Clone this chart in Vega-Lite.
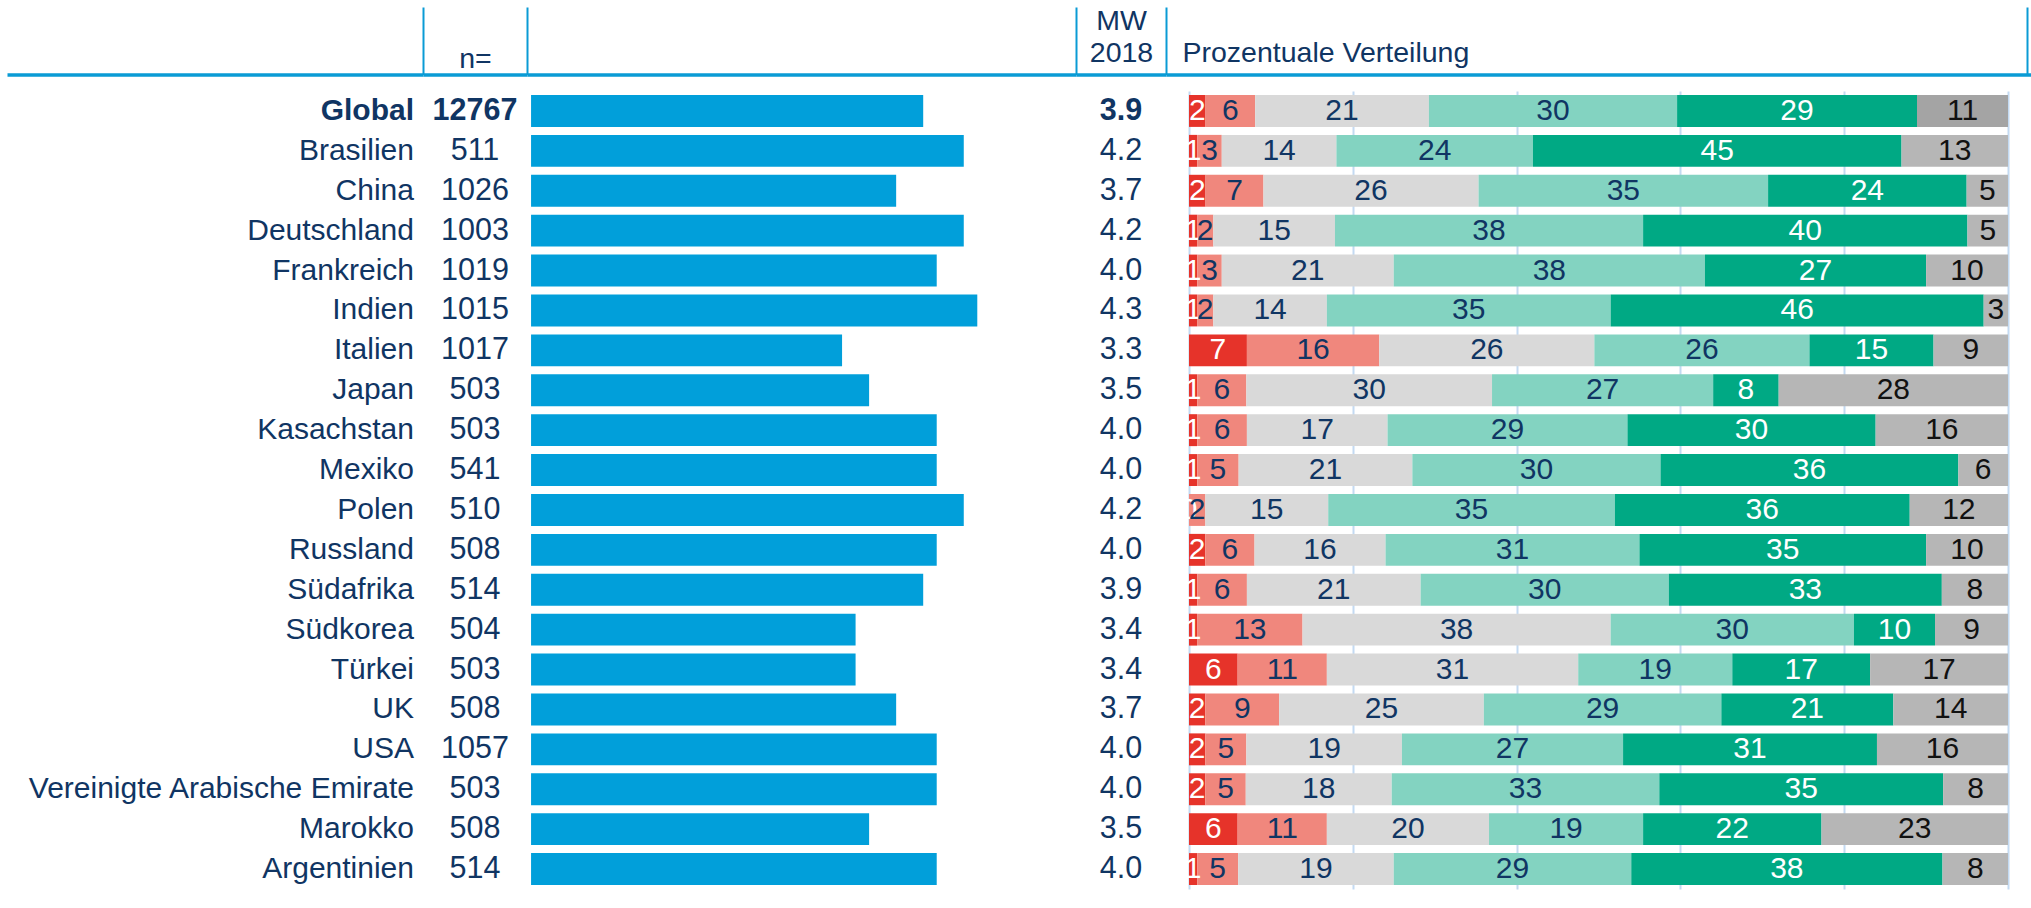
{
  "$schema": "https://vega.github.io/schema/vega-lite/v6.json",
  "padding": {"left": 7, "top": 6, "right": 0, "bottom": 5},
  "autosize": {"type": "pad"},
  "background": "white",
  "bounds": "flush",
  "spacing": 0,
  "resolve": {"scale": {"x": "independent", "y": "independent"}},
  "config": {
    "view": {"stroke": null},
    "font": "Liberation Sans",
    "text": {"font": "Liberation Sans", "fontSize": 30, "color": "#103563"},
    "axis": {
      "labels": false, "ticks": false, "domain": true, "grid": false,
      "domainColor": "#0a9bd5", "domainWidth": 3.5,
      "tickColor": "#0a9bd5", "tickWidth": 2, "tickSize": 67.5,
      "titleFont": "Liberation Sans", "titleFontSize": 28.5, "titleFontWeight": "normal",
      "titleColor": "#103563", "titleAngle": 0, "titleBaseline": "alphabetic", "titleAlign": "center"
    }
  },
  "datasets": {
    "main": [
      {"country": "Global", "n": 12767, "mw": 3.9},
      {"country": "Brasilien", "n": 511, "mw": 4.2},
      {"country": "China", "n": 1026, "mw": 3.7},
      {"country": "Deutschland", "n": 1003, "mw": 4.2},
      {"country": "Frankreich", "n": 1019, "mw": 4.0},
      {"country": "Indien", "n": 1015, "mw": 4.3},
      {"country": "Italien", "n": 1017, "mw": 3.3},
      {"country": "Japan", "n": 503, "mw": 3.5},
      {"country": "Kasachstan", "n": 503, "mw": 4.0},
      {"country": "Mexiko", "n": 541, "mw": 4.0},
      {"country": "Polen", "n": 510, "mw": 4.2},
      {"country": "Russland", "n": 508, "mw": 4.0},
      {"country": "Südafrika", "n": 514, "mw": 3.9},
      {"country": "Südkorea", "n": 504, "mw": 3.4},
      {"country": "Türkei", "n": 503, "mw": 3.4},
      {"country": "UK", "n": 508, "mw": 3.7},
      {"country": "USA", "n": 1057, "mw": 4.0},
      {"country": "Vereinigte Arabische Emirate", "n": 503, "mw": 4.0},
      {"country": "Marokko", "n": 508, "mw": 3.5},
      {"country": "Argentinien", "n": 514, "mw": 4.0}
    ],
    "dist": [
      {"country": "Global", "cat": 1, "pct": 2}, {"country": "Global", "cat": 2, "pct": 6}, {"country": "Global", "cat": 3, "pct": 21}, {"country": "Global", "cat": 4, "pct": 30}, {"country": "Global", "cat": 5, "pct": 29}, {"country": "Global", "cat": 6, "pct": 11},
      {"country": "Brasilien", "cat": 1, "pct": 1}, {"country": "Brasilien", "cat": 2, "pct": 3}, {"country": "Brasilien", "cat": 3, "pct": 14}, {"country": "Brasilien", "cat": 4, "pct": 24}, {"country": "Brasilien", "cat": 5, "pct": 45}, {"country": "Brasilien", "cat": 6, "pct": 13},
      {"country": "China", "cat": 1, "pct": 2}, {"country": "China", "cat": 2, "pct": 7}, {"country": "China", "cat": 3, "pct": 26}, {"country": "China", "cat": 4, "pct": 35}, {"country": "China", "cat": 5, "pct": 24}, {"country": "China", "cat": 6, "pct": 5},
      {"country": "Deutschland", "cat": 1, "pct": 1}, {"country": "Deutschland", "cat": 2, "pct": 2}, {"country": "Deutschland", "cat": 3, "pct": 15}, {"country": "Deutschland", "cat": 4, "pct": 38}, {"country": "Deutschland", "cat": 5, "pct": 40}, {"country": "Deutschland", "cat": 6, "pct": 5},
      {"country": "Frankreich", "cat": 1, "pct": 1}, {"country": "Frankreich", "cat": 2, "pct": 3}, {"country": "Frankreich", "cat": 3, "pct": 21}, {"country": "Frankreich", "cat": 4, "pct": 38}, {"country": "Frankreich", "cat": 5, "pct": 27}, {"country": "Frankreich", "cat": 6, "pct": 10},
      {"country": "Indien", "cat": 1, "pct": 1}, {"country": "Indien", "cat": 2, "pct": 2}, {"country": "Indien", "cat": 3, "pct": 14}, {"country": "Indien", "cat": 4, "pct": 35}, {"country": "Indien", "cat": 5, "pct": 46}, {"country": "Indien", "cat": 6, "pct": 3},
      {"country": "Italien", "cat": 1, "pct": 7}, {"country": "Italien", "cat": 2, "pct": 16}, {"country": "Italien", "cat": 3, "pct": 26}, {"country": "Italien", "cat": 4, "pct": 26}, {"country": "Italien", "cat": 5, "pct": 15}, {"country": "Italien", "cat": 6, "pct": 9},
      {"country": "Japan", "cat": 1, "pct": 1}, {"country": "Japan", "cat": 2, "pct": 6}, {"country": "Japan", "cat": 3, "pct": 30}, {"country": "Japan", "cat": 4, "pct": 27}, {"country": "Japan", "cat": 5, "pct": 8}, {"country": "Japan", "cat": 6, "pct": 28},
      {"country": "Kasachstan", "cat": 1, "pct": 1}, {"country": "Kasachstan", "cat": 2, "pct": 6}, {"country": "Kasachstan", "cat": 3, "pct": 17}, {"country": "Kasachstan", "cat": 4, "pct": 29}, {"country": "Kasachstan", "cat": 5, "pct": 30}, {"country": "Kasachstan", "cat": 6, "pct": 16},
      {"country": "Mexiko", "cat": 1, "pct": 1}, {"country": "Mexiko", "cat": 2, "pct": 5}, {"country": "Mexiko", "cat": 3, "pct": 21}, {"country": "Mexiko", "cat": 4, "pct": 30}, {"country": "Mexiko", "cat": 5, "pct": 36}, {"country": "Mexiko", "cat": 6, "pct": 6},
      {"country": "Polen", "cat": 1, "pct": 0}, {"country": "Polen", "cat": 2, "pct": 2}, {"country": "Polen", "cat": 3, "pct": 15}, {"country": "Polen", "cat": 4, "pct": 35}, {"country": "Polen", "cat": 5, "pct": 36}, {"country": "Polen", "cat": 6, "pct": 12},
      {"country": "Russland", "cat": 1, "pct": 2}, {"country": "Russland", "cat": 2, "pct": 6}, {"country": "Russland", "cat": 3, "pct": 16}, {"country": "Russland", "cat": 4, "pct": 31}, {"country": "Russland", "cat": 5, "pct": 35}, {"country": "Russland", "cat": 6, "pct": 10},
      {"country": "Südafrika", "cat": 1, "pct": 1}, {"country": "Südafrika", "cat": 2, "pct": 6}, {"country": "Südafrika", "cat": 3, "pct": 21}, {"country": "Südafrika", "cat": 4, "pct": 30}, {"country": "Südafrika", "cat": 5, "pct": 33}, {"country": "Südafrika", "cat": 6, "pct": 8},
      {"country": "Südkorea", "cat": 1, "pct": 1}, {"country": "Südkorea", "cat": 2, "pct": 13}, {"country": "Südkorea", "cat": 3, "pct": 38}, {"country": "Südkorea", "cat": 4, "pct": 30}, {"country": "Südkorea", "cat": 5, "pct": 10}, {"country": "Südkorea", "cat": 6, "pct": 9},
      {"country": "Türkei", "cat": 1, "pct": 6}, {"country": "Türkei", "cat": 2, "pct": 11}, {"country": "Türkei", "cat": 3, "pct": 31}, {"country": "Türkei", "cat": 4, "pct": 19}, {"country": "Türkei", "cat": 5, "pct": 17}, {"country": "Türkei", "cat": 6, "pct": 17},
      {"country": "UK", "cat": 1, "pct": 2}, {"country": "UK", "cat": 2, "pct": 9}, {"country": "UK", "cat": 3, "pct": 25}, {"country": "UK", "cat": 4, "pct": 29}, {"country": "UK", "cat": 5, "pct": 21}, {"country": "UK", "cat": 6, "pct": 14},
      {"country": "USA", "cat": 1, "pct": 2}, {"country": "USA", "cat": 2, "pct": 5}, {"country": "USA", "cat": 3, "pct": 19}, {"country": "USA", "cat": 4, "pct": 27}, {"country": "USA", "cat": 5, "pct": 31}, {"country": "USA", "cat": 6, "pct": 16},
      {"country": "Vereinigte Arabische Emirate", "cat": 1, "pct": 2}, {"country": "Vereinigte Arabische Emirate", "cat": 2, "pct": 5}, {"country": "Vereinigte Arabische Emirate", "cat": 3, "pct": 18}, {"country": "Vereinigte Arabische Emirate", "cat": 4, "pct": 33}, {"country": "Vereinigte Arabische Emirate", "cat": 5, "pct": 35}, {"country": "Vereinigte Arabische Emirate", "cat": 6, "pct": 8},
      {"country": "Marokko", "cat": 1, "pct": 6}, {"country": "Marokko", "cat": 2, "pct": 11}, {"country": "Marokko", "cat": 3, "pct": 20}, {"country": "Marokko", "cat": 4, "pct": 19}, {"country": "Marokko", "cat": 5, "pct": 22}, {"country": "Marokko", "cat": 6, "pct": 23},
      {"country": "Argentinien", "cat": 1, "pct": 1}, {"country": "Argentinien", "cat": 2, "pct": 5}, {"country": "Argentinien", "cat": 3, "pct": 19}, {"country": "Argentinien", "cat": 4, "pct": 29}, {"country": "Argentinien", "cat": 5, "pct": 38}, {"country": "Argentinien", "cat": 6, "pct": 8}
    ]
  },
  "hconcat": [
    {
      "width": 416, "height": 798,
      "data": {"name": "main"},
      "mark": {"type": "text", "align": "right", "baseline": "middle", "dx": -9, "fontSize": 30,
               "fontWeight": {"expr": "datum.country === 'Global' ? 'bold' : 'normal'"}},
      "encoding": {
        "y": {"field": "country", "type": "nominal", "sort": null, "bandPosition": 0.5,
              "scale": {"type": "band", "paddingInner": 0.2, "paddingOuter": 0.1,
                        "domain": ["Global","Brasilien","China","Deutschland","Frankreich","Indien","Italien","Japan","Kasachstan","Mexiko","Polen","Russland","Südafrika","Südkorea","Türkei","UK","USA","Vereinigte Arabische Emirate","Marokko","Argentinien"]},
              "axis": null},
        "x": {"datum": 1, "type": "quantitative", "scale": {"domain": [0, 1], "nice": false, "zero": false},
              "axis": {"orient": "top", "offset": 16.5, "ticks": false, "labels": false, "title": null}},
        "text": {"field": "country", "type": "nominal"}
      }
    },
    {
      "width": 104, "height": 798,
      "data": {"name": "main"},
      "mark": {"type": "text", "align": "center", "baseline": "middle", "fontSize": 30.5,
               "fontWeight": {"expr": "datum.country === 'Global' ? 'bold' : 'normal'"}},
      "encoding": {
        "y": {"field": "country", "type": "nominal", "sort": null, "bandPosition": 0.5,
              "scale": {"type": "band", "paddingInner": 0.2, "paddingOuter": 0.1,
                        "domain": ["Global","Brasilien","China","Deutschland","Frankreich","Indien","Italien","Japan","Kasachstan","Mexiko","Polen","Russland","Südafrika","Südkorea","Türkei","UK","USA","Vereinigte Arabische Emirate","Marokko","Argentinien"]},
              "axis": null},
        "x": {"datum": 0.5, "type": "quantitative", "scale": {"domain": [0, 1], "nice": false, "zero": false},
              "axis": {"orient": "top", "offset": 16.5, "values": [0], "ticks": true, "tickSize": 67.5, "labels": false,
                       "title": "n=", "titleX": 52, "titleY": -7, "titleAlign": "center"}},
        "text": {"field": "n", "type": "quantitative", "format": "d"}
      }
    },
    {
      "width": 549, "height": 798,
      "data": {"name": "main"},
      "mark": {"type": "bar", "color": "#019fda"},
      "encoding": {
        "y": {"field": "country", "type": "nominal", "sort": null,
              "scale": {"type": "band", "paddingInner": 0.2, "paddingOuter": 0.1,
                        "domain": ["Global","Brasilien","China","Deutschland","Frankreich","Indien","Italien","Japan","Kasachstan","Mexiko","Polen","Russland","Südafrika","Südkorea","Türkei","UK","USA","Vereinigte Arabische Emirate","Marokko","Argentinien"]},
              "axis": null},
        "x": {"field": "mw", "type": "quantitative", "scale": {"domain": [0.97, 5.03], "nice": false, "zero": false},
              "axis": {"orient": "top", "offset": 16.5, "values": [0.97, 5.03], "ticks": true, "tickSize": 67.5, "labels": false, "title": null}},
        "x2": {"datum": 1}
      }
    },
    {
      "width": 90, "height": 798,
      "data": {"name": "main"},
      "mark": {"type": "text", "align": "center", "baseline": "middle", "fontSize": 30.5,
               "fontWeight": {"expr": "datum.country === 'Global' ? 'bold' : 'normal'"}},
      "encoding": {
        "y": {"field": "country", "type": "nominal", "sort": null, "bandPosition": 0.5,
              "scale": {"type": "band", "paddingInner": 0.2, "paddingOuter": 0.1,
                        "domain": ["Global","Brasilien","China","Deutschland","Frankreich","Indien","Italien","Japan","Kasachstan","Mexiko","Polen","Russland","Südafrika","Südkorea","Türkei","UK","USA","Vereinigte Arabische Emirate","Marokko","Argentinien"]},
              "axis": null},
        "x": {"datum": 0.5, "type": "quantitative", "scale": {"domain": [0, 1], "nice": false, "zero": false},
              "axis": {"orient": "top", "offset": 16.5, "ticks": false, "labels": false,
                       "title": ["MW", "2018"], "titleX": 45, "titleY": -45.5, "titleLineHeight": 32, "titleAlign": "center"}},
        "text": {"field": "mw", "type": "quantitative", "format": ".1f"}
      }
    },
    {
      "width": 865, "height": 798,
      "data": {"name": "dist"},
      "layer": [
        {
          "transform": [
            {"stack": "pct", "groupby": ["country"], "sort": [{"field": "cat", "order": "ascending"}], "offset": "normalize", "as": ["s0", "s1"]}
          ],
          "mark": {"type": "bar"},
          "encoding": {
            "y": {"field": "country", "type": "nominal", "sort": null,
                  "scale": {"type": "band", "paddingInner": 0.2, "paddingOuter": 0.1,
                            "domain": ["Global","Brasilien","China","Deutschland","Frankreich","Indien","Italien","Japan","Kasachstan","Mexiko","Polen","Russland","Südafrika","Südkorea","Türkei","UK","USA","Vereinigte Arabische Emirate","Marokko","Argentinien"]},
                  "axis": null},
            "x": {"field": "s0", "type": "quantitative",
                  "scale": {"domain": [-0.02808, 1.02808], "nice": false, "zero": false},
                  "axis": {"orient": "top", "offset": 16.5,
                           "values": [-0.02808, 0, 0.2, 0.4, 0.6, 0.8, 1, 1.0232],
                           "ticks": true, "tickSize": 67.5, "labels": false,
                           "tickOpacity": {"condition": {"test": "datum.value < -0.001 || datum.value > 1.001", "value": 1}, "value": 0},
                           "grid": true, "gridColor": "#c3daf2", "gridWidth": 2,
                           "gridOpacity": {"condition": {"test": "datum.value < -0.001 || datum.value > 1.001", "value": 0}, "value": 1},
                           "title": "Prozentuale Verteilung", "titleX": 16, "titleY": -13.5, "titleAlign": "left"}},
            "x2": {"field": "s1"},
            "color": {
              "condition": {"test": "datum.country === 'Global' && datum.cat === 6", "value": "#a4a4a4"},
              "field": "cat", "type": "nominal",
              "scale": {"domain": [1, 2, 3, 4, 5, 6], "range": ["#e6332a", "#f0877d", "#d9d9d9", "#83d3c1", "#00a984", "#b6b6b6"]},
              "legend": null
            }
          }
        },
        {
          "transform": [
            {"stack": "pct", "groupby": ["country"], "sort": [{"field": "cat", "order": "ascending"}], "offset": "normalize", "as": ["s0", "s1"]},
            {"fold": ["s0", "s1"], "as": ["edge_k", "edge"]},
            {"aggregate": [{"op": "mean", "field": "edge", "as": "mid"}], "groupby": ["country", "cat", "pct"]}
          ],
          "mark": {"type": "text", "align": "center", "baseline": "middle", "fontSize": 30},
          "encoding": {
            "y": {"field": "country", "type": "nominal", "sort": null, "bandPosition": 0.5,
                  "scale": {"type": "band"}, "axis": null},
            "x": {"field": "mid", "type": "quantitative"},
            "text": {"field": "pct", "type": "quantitative"},
            "color": {
              "condition": [
                {"test": "datum.cat === 1 || datum.cat === 5", "value": "#ffffff"},
                {"test": "datum.cat === 6", "value": "#111111"}
              ],
              "value": "#103563"
            }
          }
        }
      ]
    }
  ]
}
